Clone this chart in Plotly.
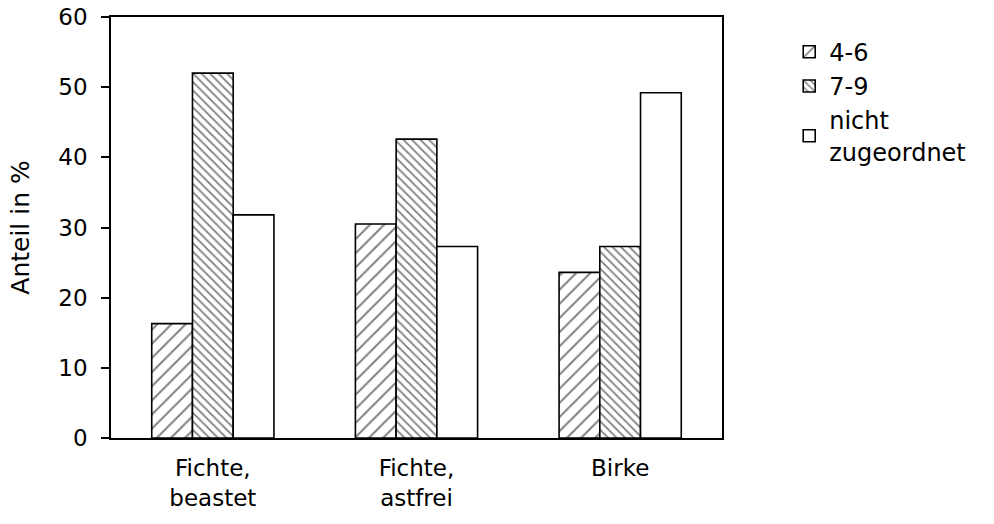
import plotly.graph_objects as go

categories = ["Fichte,<br>beastet", "Fichte,<br>astfrei", "Birke"]
series_names = ["4-6", "7-9", "nicht<br>zugeordnet"]
values_4_6 = [16.3, 30.5, 23.6]
values_7_9 = [52.0, 42.6, 27.3]
values_nicht = [31.8, 27.3, 49.2]
y_ticks = [0, 10, 20, 30, 40, 50, 60]

FONT = "DejaVu Sans, Liberation Sans, Arial, sans-serif"

fig = go.Figure()
patterns = [
    dict(shape="/", size=10, solidity=0.2, fgcolor="black", bgcolor="white"),
    dict(shape="\\", size=6, solidity=0.3, fgcolor="black", bgcolor="white"),
    dict(shape="", fgcolor="black", bgcolor="white"),
]
for name, vals, pat in zip(series_names, [values_4_6, values_7_9, values_nicht], patterns):
    fig.add_trace(go.Bar(
        x=categories, y=vals, name=name,
        marker=dict(color="white", line=dict(color="black", width=1.6), pattern=pat),
    ))

fig.update_layout(
    width=994, height=524,
    margin=dict(l=111, r=272, t=17, b=86, autoexpand=False),
    paper_bgcolor="white", plot_bgcolor="white",
    barmode="group", bargap=0.4, bargroupgap=0,
    font=dict(family=FONT, size=23, color="black"),
    showlegend=True,
    legend=dict(x=1.11, y=0.97, xanchor="left", yanchor="top",
                font=dict(family=FONT, size=24, color="black"),
                bgcolor="rgba(0,0,0,0)", tracegroupgap=0, itemwidth=30),
)
fig.update_xaxes(
    range=[-0.5, 2.5], showline=True, linecolor="black", linewidth=1.6,
    mirror=True, ticks="", showgrid=False, zeroline=False, automargin=False,
    ticklabelstandoff=9,
    tickfont=dict(family=FONT, size=23, color="black"),
)
fig.update_yaxes(
    range=[0, 60], tickvals=y_ticks, showline=True, linecolor="black", linewidth=1.6,
    mirror=True, ticks="outside", ticklen=8, tickwidth=1.6, tickcolor="black",
    showgrid=False, zeroline=False, automargin=False, ticklabelstandoff=9,
    ticklabeloverflow="allow",
    title=dict(text="Anteil in %", font=dict(family=FONT, size=25, color="black"), standoff=22),
    tickfont=dict(family=FONT, size=23, color="black"),
)

fig.write_html("out.html", config={"displayModeBar": False},
               post_script="document.body.style.margin='0';")
